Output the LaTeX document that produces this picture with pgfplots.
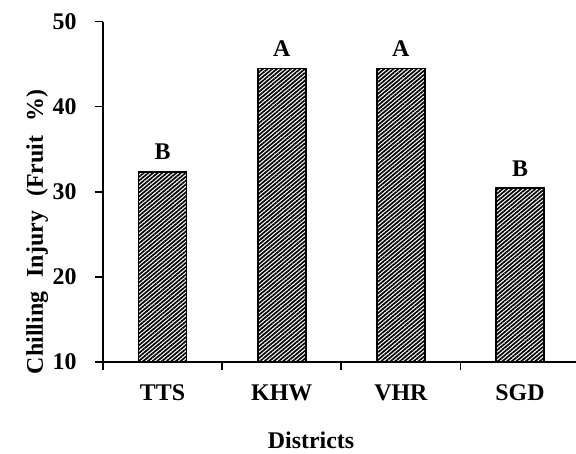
\documentclass[border=0pt]{standalone}
\usepackage{fontspec}
\setmainfont{Liberation Serif}
\usepackage{pgfplots}
\pgfplotsset{compat=1.18}
\usetikzlibrary{patterns.meta}

\newcommand{\lab}{\fontsize{24}{24}\selectfont\bfseries}

\begin{document}
\begin{tikzpicture}
\begin{axis}[
    name=ax,
    scale only axis,
    width=473bp, height=340bp,
    xmin=-0.5, xmax=3.47,
    ymin=10, ymax=50,
    ybar, bar width=48bp,
    axis x line=bottom, axis y line=left,
    axis line style={-, line width=1.8bp},
    every tick/.style={line width=1.6bp, black},
    tick align=outside,
    ytick={10,20,30,40,50},
    major tick length=8bp,
    xtick={-0.5,0.5,1.5,2.5},
    xticklabels={},
    extra x ticks={0,1,2,3},
    extra x tick labels={TTS,KHW,VHR,SGD},
    extra x tick style={tick style={draw=none}},
    /pgf/number format/assume math mode=true,
    ticklabel style={font=\lab},
    yticklabel style={xshift=-15bp},
    xticklabel style={anchor=base, yshift=-31bp},
    point meta=explicit symbolic,
    nodes near coords,
    every node near coord/.append style={font=\lab, anchor=south, yshift=8bp},
    clip=false,
]
\addplot[draw=black, line width=1.8bp,
    pattern={Lines[angle=40, distance=3bp, line width=1.7bp]}, pattern color=black]
    coordinates {(0,32.3) [B] (1,44.5) [A] (2,44.5) [A] (3,30.4) [B]};
\draw[line width=1.8bp] (axis cs:-0.5,10) -- ([xshift=-8bp]axis cs:-0.5,10);
\end{axis}
\node[font=\lab, anchor=base] at ([xshift=208bp, yshift=-87bp]ax.south west) {Districts};
\node[font=\lab, anchor=base, rotate=90] at ([xshift=-60bp, yshift=130bp]ax.south west)
    {Chilling\hspace{0.6em}Injury\hspace{0.6em}(Fruit\hspace{0.6em}\%)};
\pgfresetboundingbox
\path[use as bounding box] ([xshift=-103bp, yshift=-92.3bp]ax.south west) rectangle ([xshift=473bp, yshift=361.7bp]ax.south west);
\end{tikzpicture}
\end{document}
